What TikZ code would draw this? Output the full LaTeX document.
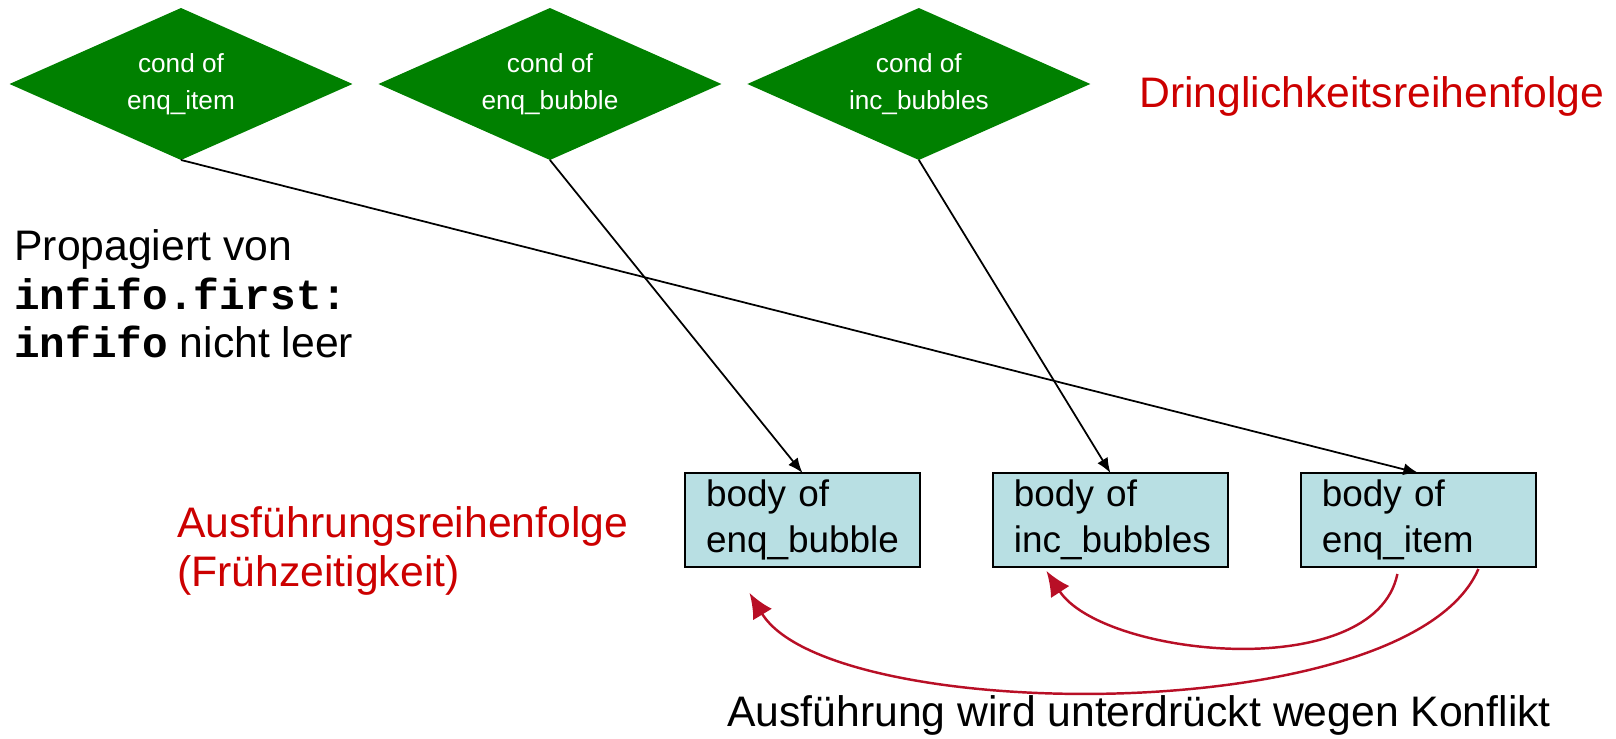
\documentclass[tikz,border=0pt]{standalone}
\usepackage{fontspec}
\setmainfont{Liberation Sans}
\setmonofont{Liberation Mono}
\usetikzlibrary{positioning,shapes.geometric,arrows.meta}
\definecolor{condgreen}{HTML}{008000}
\definecolor{bodyfill}{HTML}{B8DFE3}
\definecolor{textred}{HTML}{CC0000}
\definecolor{curvered}{HTML}{B80F26}

\begin{document}
\begin{tikzpicture}[x=0.02cm,y=-0.02cm,
  cond/.style={diamond,aspect=2.26,fill=condgreen,text=white,minimum width=6.86cm,minimum height=3.04cm,inner sep=0pt,outer sep=0pt,align=center,font=\fontsize{14.9}{21}\selectfont},
  body/.style={draw=black,line width=0.8pt,fill=bodyfill,text width=3.86cm,inner xsep=0.42cm,inner ysep=0pt,minimum height=1.88cm,outer sep=0pt,align=left,font=\fontsize{21}{26.5}\selectfont},
  note/.style={anchor=west,inner sep=0pt,align=left,font=\fontsize{24.3}{27.5}\selectfont},
  arrow/.style={-{Latex[length=0.3cm,width=0.24cm]},line width=1pt},
  conflict/.style={-{Latex[length=0.5cm,width=0.44cm]},line width=1.4pt,color=curvered}]
\useasboundingbox (0,0) rectangle (1616,739);
% conditions (priority order)
\node[cond] (cenqitem) at (181,84) {cond of\\enq\_item};
\node[cond,right=0.52cm of cenqitem] (cenqbubble) {cond of\\enq\_bubble};
\node[cond,right=0.52cm of cenqbubble] (cincbubbles) {cond of\\inc\_bubbles};
\node[note,text=textred] (prio) at (1139,96) {Dringlichkeitsreihenfolge};
% bodies (execution order)
\node[body] (benqbubble) at (802.5,520) {body of\\enq\_bubble};
\node[body,right=1.46cm of benqbubble] (bincbubbles) {body of\\inc\_bubbles};
\node[body,right=1.46cm of bincbubbles] (benqitem) {body of\\enq\_item};
\node[note,text=textred] (exec) at (177,551) {Ausführungsreihenfolge\\(Frühzeitigkeit)};
\node[note] (prop) at (14,294) {Propagiert von\\\textbf{\texttt{infifo.first:}}\\\textbf{\texttt{infifo}} nicht leer};
\node[note] (suppr) at (727,715) {Ausführung wird unterdrückt wegen Konflikt};
% connectors
\draw[arrow] (cenqitem.south) -- (benqitem.north);
\draw[arrow] (cenqbubble.south) -- (benqbubble.north);
\draw[arrow] (cincbubbles.south) -- (bincbubbles.north);
\draw[conflict] ([xshift=-0.42cm,yshift=-0.14cm]benqitem.south) .. controls +(-23,111) and +(56,86) .. ([xshift=-1.28cm,yshift=-0.08cm]bincbubbles.south);
\draw[conflict] ([xshift=1.2cm,yshift=-0.04cm]benqitem.south) .. controls +(-69,161) and +(80,132) .. ([xshift=-1.06cm,yshift=-0.52cm]benqbubble.south);
\end{tikzpicture}
\end{document}
